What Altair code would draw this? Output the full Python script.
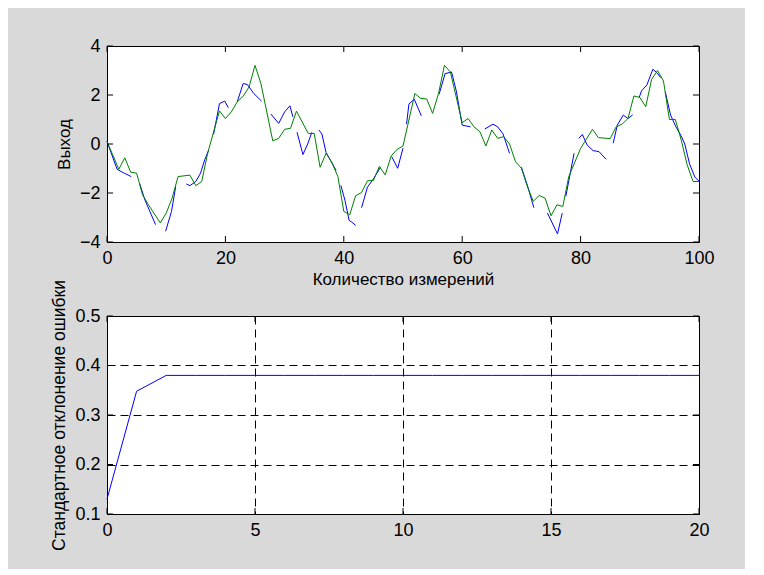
import altair as alt
import pandas as pd

# ---- top panel: estimated output (green, continuous) ----
green_x = [0, 2, 3, 4, 5, 6, 7, 9, 10, 11, 12, 14, 15, 16, 17, 19, 20, 21, 22, 23, 24, 25, 26,
           28, 29, 30, 31, 32, 34, 35, 36, 37, 38, 39, 40, 41, 42, 43, 44, 45, 46, 47, 48, 49,
           50, 51, 52, 53, 54, 55, 56, 57, 58, 60, 61, 62, 63, 64, 65, 66, 67, 68, 69, 70, 71,
           72, 73, 74, 75, 76, 77, 78, 80, 82, 83, 85, 86, 87, 88, 89, 90, 91, 92, 93, 94, 95,
           96, 97, 98, 99, 100]
green_y = [0.1, -1.03, -0.56, -1.15, -1.19, -2.07, -2.48, -3.22, -2.82, -2.21, -1.33, -1.27,
           -1.7, -1.53, -0.38, 1.35, 1.04, 1.31, 1.72, 1.95, 2.33, 3.21, 2.47, 0.13, 0.23, 0.6,
           0.64, 1.34, 0.43, 0.43, -0.95, -0.38, -0.76, -1.33, -2.75, -2.89, -2.11, -1.98, -1.5,
           -1.49, -0.92, -1.26, -0.49, -0.22, -0.08, 0.98, 2.06, 1.86, 1.84, 1.25, 2.06, 3.21,
           2.94, 0.87, 1.04, 0.7, 0.5, -0.08, 0.57, 0.23, 0.3, 0.0, -0.72, -0.99, -1.73, -2.34,
           -2.1, -2.21, -2.93, -2.48, -2.55, -1.33, -0.18, 0.6, 0.26, 0.22, 0.7, 0.81, 1.04,
           1.96, 1.9, 1.52, 2.64, 3.0, 2.57, 1.0, 1.0, 0.16, -0.85, -1.53, -1.53]

# ---- top panel: measured output (blue, broken into segments) ----
blue_seg = [1, 1, 1, 1,
            2, 2, 2,
            3, 3, 3,
            4, 4, 4, 4, 4, 4,
            5, 5, 5, 5,
            6, 6, 6, 6, 6,
            7, 7, 7, 7, 7,
            8, 8, 8, 8,
            9, 9, 9, 9,
            10, 10, 10, 10, 10,
            11, 11, 11, 11,
            12, 12, 12,
            13, 13, 13, 13,
            14, 14, 14, 14, 14, 14,
            15, 15, 15, 15, 15,
            16, 16, 16,
            17, 17, 17, 17,
            18, 18,
            19, 19, 19, 19, 19, 19,
            20, 20, 20, 20, 20,
            21, 21, 21, 21, 21, 21,
            22, 22, 22, 22, 22, 22, 22, 22]
blue_x = [0, 1.7, 2.9, 4.1,
          5.5, 6.4, 8.2,
          9.9, 10.9, 11.6,
          13.4, 14.0, 15.0, 15.8, 16.5, 17.2,
          18.0, 19.0, 19.9, 20.5,
          22.0, 23.0, 23.7, 24.8, 26.1,
          27.7, 29.0, 30.0, 30.9, 31.4,
          32.1, 33.1, 33.9, 34.6,
          35.8, 36.3, 37.0, 38.7,
          39.5, 40.2, 40.9, 41.3, 42.0,
          43.0, 44.0, 45.0, 46.2,
          48.1, 49.1, 50.0,
          50.6, 51.0, 51.9, 53.1,
          56.1, 57.1, 58.2, 59.0, 60.0, 61.4,
          63.8, 65.2, 66.0, 66.9, 68.0,
          70.0, 71.1, 72.1,
          74.4, 75.2, 76.1, 76.9,
          77.5, 78.9,
          79.7, 80.3, 81.1, 82.1, 83.1, 84.3,
          85.5, 86.2, 87.2, 88.0, 88.8,
          89.9, 90.3, 91.2, 92.2, 92.9, 93.5,
          94.3, 95.2, 96.1, 96.9, 97.6, 98.4, 99.3, 100]
blue_y = [0.1, -1.03, -1.19, -1.33,
          -1.6, -2.28, -3.29,
          -3.56, -2.75, -1.74,
          -1.63, -1.7, -1.53, -1.19, -0.65, -0.24,
          0.39, 1.65, 1.75, 1.48,
          1.72, 2.47, 2.43, 2.06, 1.75,
          1.22, 0.84, 1.31, 1.56, 1.11,
          0.48, -0.43, 0.0, 0.48,
          0.57, 0.41, -0.34, -1.08,
          -1.69, -2.3, -3.12, -3.18, -3.32,
          -2.6, -1.76, -1.42, -0.95,
          -0.52, -0.99, -0.17,
          0.81, 1.63, 1.83, 1.15,
          2.03, 2.87, 2.94, 2.17, 0.77, 0.7,
          0.61, 0.81, 0.7, 0.41, -0.38,
          -0.95, -1.76, -2.6,
          -2.82, -3.22, -3.67, -2.82,
          -2.14, -0.38,
          0.23, 0.39, -0.04, -0.27, -0.31, -0.62,
          0.03, 0.77, 1.18, 1.04, 1.19,
          1.9, 2.17, 2.41, 3.05, 2.91, 2.71,
          2.13, 1.18, 0.7, 0.37, 0.0, -0.81, -1.35, -1.52]

# ---- bottom panel: error standard deviation ----
err_x = list(range(0, 21))
err_y = [0.13, 0.348, 0.38] + [0.38] * 18

top_xticks = [0, 20, 40, 60, 80, 100]
top_yticks = [-4, -2, 0, 2, 4]
bot_xticks = [0, 5, 10, 15, 20]
bot_yticks = [0.1, 0.2, 0.3, 0.4, 0.5]

top_xtitle = "Количество измерений"
top_ytitle = "Выход"
bot_ytitle = "Стандартное отклонение ошибки"

W = 592
H1 = 196
H2 = 198
TK = 6
FONT = "Liberation Sans"

axis_common = dict(
    labelFont=FONT, labelFontSize=18, labelColor="black",
    titleFont=FONT, titleFontSize=17, titleFontWeight="normal", titleColor="black",
    tickSize=0, domain=False, labelPadding=7, labelFlush=False, labelOverlap=False,
)


def panel(xdom, ydom, xticks, yticks, xtitle, ytitle, height, grid, main_layers, ytitle_size=17):
    xs = alt.Scale(domain=xdom, nice=False, zero=False)
    ys = alt.Scale(domain=ydom, nice=False, zero=False)
    gridargs = dict(grid=True, gridColor="black", gridDash=[8, 5], gridWidth=1) if grid else dict(grid=False)
    xenc = alt.X("x:Q", scale=xs,
                 axis=alt.Axis(values=xticks, title=xtitle, titlePadding=4, **gridargs, **axis_common))
    yax = dict(axis_common)
    yax["titleFontSize"] = ytitle_size
    yenc = alt.Y("y:Q", scale=ys,
                 axis=alt.Axis(values=yticks, title=ytitle, titlePadding=6, **gridargs, **yax))
    layers = []
    for df, color, detail in main_layers:
        enc = dict(x=xenc, y=yenc)
        if detail:
            enc["detail"] = alt.Detail("seg:N")
        layers.append(alt.Chart(df).mark_line(color=color, strokeWidth=1).encode(**enc))
    xt = pd.DataFrame({"x": xticks})
    yt = pd.DataFrame({"y": yticks})
    layers.append(alt.Chart(xt).mark_rule(color="black").encode(x=xenc, y=alt.value(0), y2=alt.value(TK)))
    layers.append(alt.Chart(xt).mark_rule(color="black").encode(x=xenc, y=alt.value(height - TK), y2=alt.value(height)))
    layers.append(alt.Chart(yt).mark_rule(color="black").encode(y=yenc, x=alt.value(0), x2=alt.value(TK)))
    layers.append(alt.Chart(yt).mark_rule(color="black").encode(y=yenc, x=alt.value(W - TK), x2=alt.value(W)))
    return alt.layer(*layers).properties(width=W, height=height)


green_df = pd.DataFrame({"x": green_x, "y": green_y})
blue_df = pd.DataFrame({"x": blue_x, "y": blue_y, "seg": blue_seg})
err_df = pd.DataFrame({"x": err_x, "y": err_y})

top = panel([0, 100], [-4, 4], top_xticks, top_yticks, top_xtitle, top_ytitle, H1, False,
            [(blue_df, "#0000ff", True), (green_df, "#008000", False)])
bottom = panel([0, 20], [0.1, 0.5], bot_xticks, bot_yticks, None, bot_ytitle, H2, True,
               [(err_df, "#0000ff", False)], ytitle_size=17.5)

chart = alt.vconcat(top, bottom, spacing=74, bounds="flush").resolve_scale(
    x="independent", y="independent"
).properties(
    background="#d9d9d9",
    padding={"left": 42, "top": 28, "right": 30, "bottom": 18},
).configure_view(stroke="black", strokeWidth=1, fill="white")

chart.save("out.html", embed_options={"renderer": "svg", "actions": False})
